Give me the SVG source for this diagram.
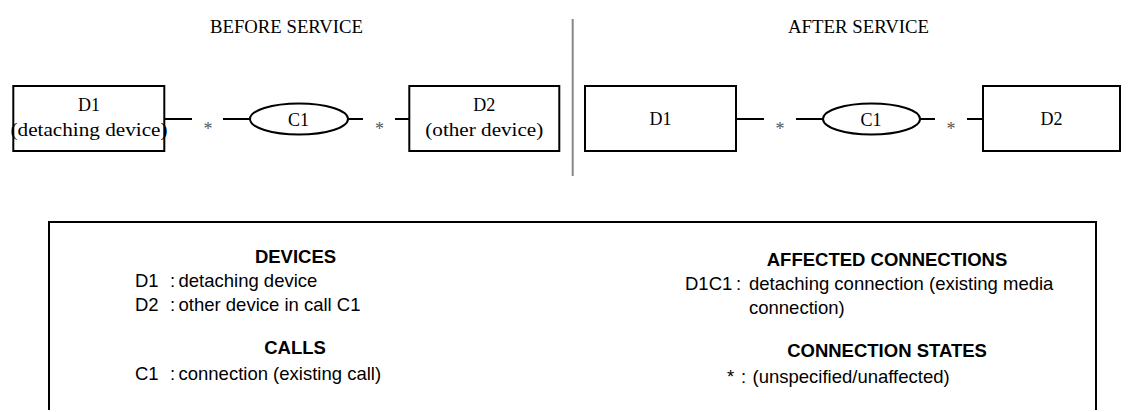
<svg xmlns="http://www.w3.org/2000/svg" width="1136" height="412" viewBox="0 0 1136 412">
<style>
.bg{fill:#fff}
.box{fill:#fff;stroke:#000;stroke-width:2}
.ell{fill:#fff;stroke:#000;stroke-width:2}
.ln{stroke:#000;stroke-width:2;fill:none}
.sep{stroke:#888;stroke-width:2}
.serif{font-family:"Liberation Serif","Times New Roman",serif;font-size:18px;fill:#000;text-anchor:middle}
.star{font-family:"Liberation Serif","Times New Roman",serif;font-size:18px;fill:#555;text-anchor:middle}
.sans{font-family:"Liberation Sans",Arial,sans-serif;font-size:18.5px;fill:#000}
.head{font-weight:bold;text-anchor:middle}
</style>
<rect class="bg" x="0" y="0" width="1136" height="412"/>

<g id="titles">
<text class="serif" x="286.5" y="33" textLength="153" lengthAdjust="spacingAndGlyphs">BEFORE SERVICE</text>
<text class="serif" x="858.5" y="33" textLength="141" lengthAdjust="spacingAndGlyphs">AFTER SERVICE</text>
<line class="sep" x1="572.7" y1="19" x2="572.7" y2="176"/>
</g>

<g id="connectors">
<line class="ln" x1="164" y1="119" x2="192" y2="119"/>
<line class="ln" x1="223" y1="119" x2="250" y2="119"/>
<line class="ln" x1="348" y1="119" x2="363" y2="119"/>
<line class="ln" x1="395" y1="119" x2="409" y2="119"/>
<text class="star" x="208" y="135">*</text>
<text class="star" x="379.5" y="135">*</text>
<line class="ln" x1="736" y1="119" x2="764" y2="119"/>
<line class="ln" x1="796" y1="119" x2="823" y2="119"/>
<line class="ln" x1="920" y1="119" x2="935" y2="119"/>
<line class="ln" x1="967" y1="119" x2="983" y2="119"/>
<text class="star" x="780" y="135">*</text>
<text class="star" x="951" y="135">*</text>
</g>

<g id="before-d1">
<rect class="box" x="13.3" y="86" width="151" height="65"/>
<text class="serif" x="89" y="111">D1</text>
<text class="serif" x="89" y="136" textLength="157" lengthAdjust="spacingAndGlyphs">(detaching device)</text>
</g>
<g id="before-c1">
<ellipse class="ell" cx="299" cy="119" rx="49" ry="15.5"/>
<text class="serif" x="298.5" y="125.5">C1</text>
</g>
<g id="before-d2">
<rect class="box" x="409.3" y="86" width="150" height="65"/>
<text class="serif" x="484.3" y="111">D2</text>
<text class="serif" x="484.3" y="136" textLength="118" lengthAdjust="spacingAndGlyphs">(other device)</text>
</g>

<g id="after-d1">
<rect class="box" x="585" y="86" width="151" height="65"/>
<text class="serif" x="660.5" y="125">D1</text>
</g>
<g id="after-c1">
<ellipse class="ell" cx="871.5" cy="119" rx="48.5" ry="15.5"/>
<text class="serif" x="871" y="125.5">C1</text>
</g>
<g id="after-d2">
<rect class="box" x="983" y="86" width="137" height="65"/>
<text class="serif" x="1051.5" y="125">D2</text>
</g>

<g id="legend">
<path class="ln" d="M49,410 V222 H1096 V410"/>
<text class="sans head" x="295.5" y="263">DEVICES</text>
<text class="sans" x="135" y="287">D1</text>
<text class="sans" x="170" y="287">:</text>
<text class="sans" x="178.5" y="287">detaching device</text>
<text class="sans" x="135" y="311">D2</text>
<text class="sans" x="170" y="311">:</text>
<text class="sans" x="178.5" y="311">other device in call C1</text>
<text class="sans head" x="295" y="354">CALLS</text>
<text class="sans" x="135" y="380">C1</text>
<text class="sans" x="170" y="380">:</text>
<text class="sans" x="178.5" y="380">connection (existing call)</text>

<text class="sans head" x="887" y="266">AFFECTED CONNECTIONS</text>
<text class="sans" x="685" y="290">D1C1</text>
<text class="sans" x="736" y="290">:</text>
<text class="sans" x="749" y="290">detaching connection (existing media</text>
<text class="sans" x="749" y="314">connection)</text>
<text class="sans head" x="887" y="357">CONNECTION STATES</text>
<text class="sans" x="727" y="383">*</text>
<text class="sans" x="741" y="383">:</text>
<text class="sans" x="752.5" y="383">(unspecified/unaffected)</text>
</g>
</svg>
